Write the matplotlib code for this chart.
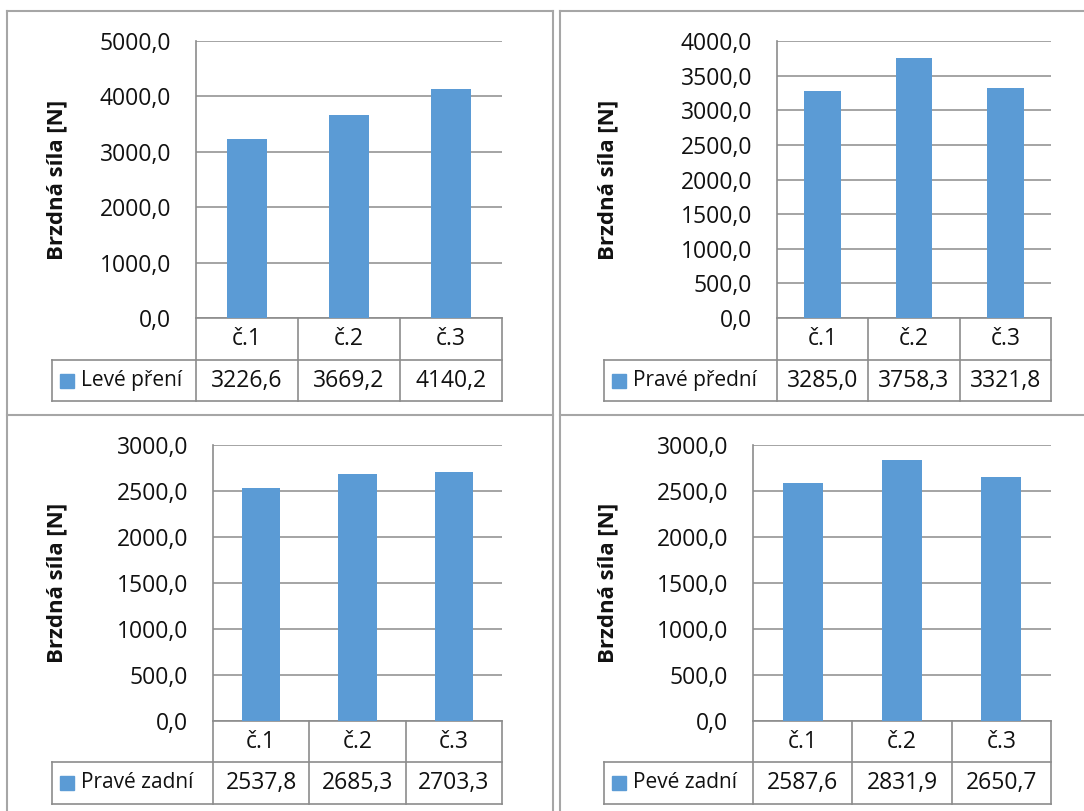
import matplotlib
matplotlib.use("Agg")
import matplotlib.pyplot as plt
from matplotlib.lines import Line2D
from matplotlib.patches import Rectangle

plt.rcParams['font.family'] = ['Open Sans', 'DejaVu Sans']

categories = ['č.1', 'č.2', 'č.3']

left_front = [3226.6, 3669.2, 4140.2]
right_front = [3285.0, 3758.3, 3321.8]
right_rear = [2537.8, 2685.3, 2703.3]
left_rear = [2587.6, 2831.9, 2650.7]

series_names = ['Levé pření', 'Pravé přední', 'Pravé zadní', 'Pevé zadní']
y_max = [5000, 4000, 3000, 3000]
y_step = [1000, 500, 500, 500]

W, H = 1084, 811
BAR = '#5B9BD5'
GRID = '#8c8c8c'
FRAME = '#a6a6a6'
TXT = '#111111'
FS = 16.5


def fmt(v):
    return f"{v:.1f}".replace('.', ',')


def panel(fig, box, legend_left, label_x, values, name, ymax, step, rows=(42, 41)):
    left, right, top, bottom = box
    aw, ah = right - left, bottom - top
    ax = fig.add_axes([left / W, 1 - bottom / H, aw / W, ah / H])
    x = range(len(categories))
    ax.bar(x, values, width=0.4, color=BAR, zorder=3)
    ax.set_xlim(-0.5, len(categories) - 0.5)
    ax.set_ylim(0, ymax)
    ticks = list(range(0, ymax + 1, step))
    ax.set_yticks(ticks)
    ax.set_yticklabels([fmt(t) for t in ticks], fontsize=FS, color=TXT)
    ax.tick_params(axis='y', length=0, pad=18)
    ax.set_xticks([])
    ax.yaxis.grid(True, color=GRID, lw=1.1, zorder=0)
    for s in ['top', 'right']:
        ax.spines[s].set_visible(False)
    for s in ['left', 'bottom']:
        ax.spines[s].set_color(GRID)
        ax.spines[s].set_linewidth(1.2)
    ax.set_ylabel('Brzdná síla [N]', fontsize=16, fontweight='bold',
                  va='center', color=TXT)
    ax.yaxis.set_label_coords((label_x - left) / aw, 0.5)

    # data table under the plot
    r1 = rows[0] / ah
    r2 = (rows[0] + rows[1]) / ah
    lx = (legend_left - left) / aw
    n = len(categories)
    kw = dict(transform=ax.transAxes, color=GRID, lw=1.2, clip_on=False)
    for i in range(n + 1):
        ax.add_line(Line2D([i / n, i / n], [0, -r2], **kw))
    ax.add_line(Line2D([lx, 1], [-r1, -r1], **kw))
    ax.add_line(Line2D([lx, 1], [-r2, -r2], **kw))
    ax.add_line(Line2D([lx, lx], [-r1, -r2], **kw))
    for i, (c, v) in enumerate(zip(categories, values)):
        cx = (i + 0.5) / n
        ax.text(cx, -r1 / 2, c, transform=ax.transAxes, ha='center',
                va='center', fontsize=FS, color=TXT)
        ax.text(cx, -(r1 + r2) / 2, fmt(v), transform=ax.transAxes,
                ha='center', va='center', fontsize=FS, color=TXT)
    sq = 14 / aw
    sqh = 14 / ah
    ax.add_patch(Rectangle((lx + 8 / aw, -(r1 + r2) / 2 - sqh / 2), sq, sqh,
                           transform=ax.transAxes, color=BAR, clip_on=False))
    ax.text(lx + 29 / aw, -(r1 + r2) / 2, name, transform=ax.transAxes,
            ha='left', va='center', fontsize=15, color=TXT)
    return ax


fig = plt.figure(figsize=(W / 100, H / 100), dpi=100)

panel(fig, (196, 502, 41, 318), 52, 57, left_front, series_names[0],
      y_max[0], y_step[0])
panel(fig, (777, 1051, 41, 318), 604, 608, right_front, series_names[1],
      y_max[1], y_step[1])
panel(fig, (213, 502, 445, 721), 52, 57, right_rear, series_names[2],
      y_max[2], y_step[2], rows=(41, 42))
panel(fig, (753, 1051, 445, 721), 604, 608, left_rear, series_names[3],
      y_max[3], y_step[3], rows=(41, 42))


# chart frames
def hline(y, x0, x1):
    fig.add_artist(Line2D([x0 / W, x1 / W], [1 - y / H, 1 - y / H],
                          transform=fig.transFigure, color=FRAME, lw=1.5))


def vline(x, y0, y1):
    fig.add_artist(Line2D([x / W, x / W], [1 - y0 / H, 1 - y1 / H],
                          transform=fig.transFigure, color=FRAME, lw=1.5))


hline(11, 7, 553)
hline(11, 560, W)
hline(415, 7, 553)
hline(415, 560, W)
vline(7, 11, H)
vline(553, 11, H)
vline(560, 11, H)

fig.savefig('out.png', dpi=100, facecolor='white')
